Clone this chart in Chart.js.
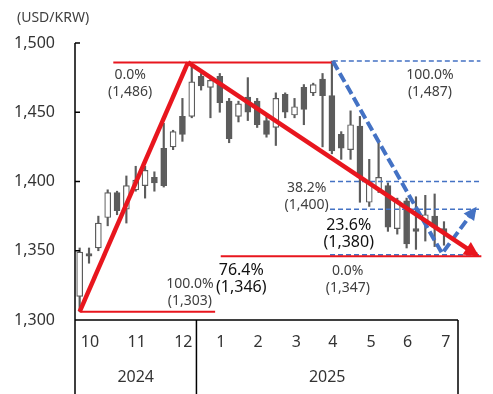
<!DOCTYPE html>
<html>
<head>
<meta charset="utf-8">
<script src="https://cdn.jsdelivr.net/npm/chart.js@4.4.1/dist/chart.umd.min.js"></script>
<style>
  body { margin: 0; background: #fff; }
  canvas { display: block; }
</style>
</head>
<body>
<canvas id="fx" width="493" height="394"></canvas>
<script>
// weekly USD/KRW candles, Oct 2024 - Jul 2025
const open  = [1317,1348,1352,1374,1392,1380,1394,1397,1403,1424,1425,1447,1447,1476,1468,1476,1458,1447,1461,1458,1444,1439,1463,1448,1468,1464,1474,1462,1434,1423,1440,1385,1394,1397,1366,1386,1366,1372,1375,1366]
const high  = [1352,1352,1375,1394,1393,1404,1411,1411,1407,1442,1437,1460,1486,1478,1476,1478,1460,1458,1475,1460,1447,1464,1464,1460,1470,1471,1478,1487,1436,1451,1447,1416,1429,1399,1388,1388,1389,1390,1391,1371]
const low   = [1306,1341,1350,1368,1376,1370,1393,1388,1393,1396,1423,1429,1446,1466,1446,1450,1428,1443,1444,1439,1432,1426,1446,1446,1441,1462,1425,1420,1416,1416,1385,1382,1392,1364,1362,1352,1351,1357,1353,1354]
const close = [1349,1346,1370,1392,1379,1397,1401,1408,1399,1397,1436,1434,1472,1469,1473,1457,1431,1456,1450,1441,1434,1460,1450,1454,1452,1470,1462,1422,1424,1441,1403,1400,1403,1367,1386,1355,1364,1376,1367,1363]

const monthLabels = ['10','11','12','1','2','3','4','5','6','7']
const monthAt = [2.1, 7.1, 12.1, 16.1, 20.1, 24.2, 28.1, 32.2, 36.1, 40.2]   // week index under each label
const yearLabels = ['2024','2025']
const yearBreak = 13.5
const yTicks = [1300, 1350, 1400, 1450, 1500]

// hand drawn retracement marks (x = week index, y = KRW)
const redRise = [{x: 1.0, y: 1306}, {x: 12.6, y: 1486}]
const redFall = [{x: 12.6, y: 1486}, {x: 43.5, y: 1347}]
const blueSwing = [{x: 28.1, y: 1487}, {x: 39.8, y: 1348}, {x: 43.3, y: 1380}]
const redLevels = [[1486, 4.6, 28.1], [1306, 1.0, 15.5], [1346, 16.1, 44.0]]
const fibLevels = [[1487, 28.1, 43.9], [1400, 27.8, 43.9], [1380, 27.8, 43.9], [1347, 27.8, 43.9]]

const notes = [
  {lines: ['0.0%', '(1,486)'], x: 6.4, y: 1477},
  {lines: ['100.0%', '(1,487)'], x: 38.5, y: 1477},
  {lines: ['38.2%', '(1,400)'], x: 25.3, y: 1395.6},
  {lines: ['23.6%', '(1,380)'], x: 29.8, y: 1368.2, strong: true},
  {lines: ['0.0%', '(1,347)'], x: 29.7, y: 1335.7},
  {lines: ['76.4%', '(1,346)'], x: 18.3, y: 1335.7, strong: true},
  {lines: ['100.0%', '(1,303)'], x: 12.8, y: 1326.3}
]

const RED = '#E8161E'
const BLUE = '#4472C4'
const CANDLE = '#5c5c5c'
const FONT = '"Noto Sans", "Open Sans", sans-serif'

Chart.defaults.font.family = FONT

function segment(lv) {
  return {
    type: 'line',
    data: [{x: lv[1], y: lv[0]}, {x: lv[2], y: lv[0]}],
    pointRadius: 0,
    clip: false,
    fill: false
  }
}

const datasets = [
  {
    type: 'bar',
    data: open.map((o, i) => ({x: i + 1, y: [low[i], high[i]]})),
    backgroundColor: CANDLE,
    barThickness: 1.5,
    grouped: false,
    order: 6
  },
  {
    type: 'bar',
    data: open.map((o, i) => ({x: i + 1, y: [Math.min(o, close[i]), Math.max(o, close[i])]})),
    backgroundColor: open.map((o, i) => close[i] >= o ? '#ffffff' : CANDLE),
    borderColor: CANDLE,
    borderWidth: 1.2,
    borderSkipped: false,
    barThickness: 6,
    grouped: false,
    order: 5
  }
]

fibLevels.forEach(lv => datasets.push(Object.assign(segment(lv), {
  borderColor: BLUE, borderWidth: 1.6, borderDash: [5, 3], order: 4
})))
redLevels.forEach(lv => datasets.push(Object.assign(segment(lv), {
  borderColor: RED, borderWidth: 2, order: 3
})))

datasets.push({
  type: 'line', data: blueSwing, borderColor: BLUE, borderWidth: 4, borderDash: [10, 4],
  pointRadius: 0, clip: false, fill: false, order: 2, arrowSize: 13
})
datasets.push({
  type: 'line', data: redRise, borderColor: RED, borderWidth: 4.5,
  pointRadius: 0, clip: false, fill: false, order: 1
})
datasets.push({
  type: 'line', data: redFall, borderColor: RED, borderWidth: 4.5,
  pointRadius: 0, clip: false, fill: false, order: 1, arrowSize: 15
})

const arrowHeads = {
  id: 'arrowHeads',
  afterDatasetsDraw(chart) {
    const ctx = chart.ctx
    chart.data.datasets.forEach((ds, i) => {
      if (!ds.arrowSize) return
      const pts = chart.getDatasetMeta(i).data
      const a = pts[pts.length - 2], b = pts[pts.length - 1]
      const ang = Math.atan2(b.y - a.y, b.x - a.x)
      const len = ds.arrowSize
      ctx.save()
      ctx.translate(b.x, b.y)
      ctx.rotate(ang)
      ctx.translate(3, 0)
      ctx.beginPath()
      ctx.moveTo(0, 0)
      ctx.lineTo(-len, -len * 0.5)
      ctx.lineTo(-len, len * 0.5)
      ctx.closePath()
      ctx.fillStyle = ds.borderColor
      ctx.fill()
      ctx.restore()
    })
  }
}

const frame = {
  id: 'frame',
  afterDraw(chart) {
    const {ctx, chartArea: a, scales: {x, y}} = chart
    const H = chart.height
    ctx.save()
    ctx.strokeStyle = '#000'
    ctx.lineWidth = 1.5
    ctx.beginPath()
    ctx.moveTo(a.left, a.top)
    ctx.lineTo(a.left, H)
    ctx.moveTo(a.left, a.bottom)
    ctx.lineTo(a.right, a.bottom)
    const xb = x.getPixelForValue(yearBreak)
    ctx.moveTo(xb, a.bottom)
    ctx.lineTo(xb, H)
    ctx.moveTo(a.right, a.bottom)
    ctx.lineTo(a.right, H)
    yTicks.forEach(v => {
      const py = y.getPixelForValue(v)
      ctx.moveTo(a.left, py)
      ctx.lineTo(a.left + 5, py)
    })
    ctx.stroke()

    ctx.fillStyle = '#333'
    ctx.textAlign = 'center'
    ctx.textBaseline = 'middle'
    ctx.font = '16px ' + FONT
    monthLabels.forEach((m, i) => ctx.fillText(m, x.getPixelForValue(monthAt[i]), a.bottom + 22))
    ctx.fillText(yearLabels[0], (a.left + xb) / 2, a.bottom + 57)
    ctx.fillText(yearLabels[1], (xb + a.right) / 2, a.bottom + 57)

    notes.forEach(n => {
      ctx.font = (n.strong ? '16px ' : '14px ') + FONT
      ctx.fillStyle = n.strong ? '#111' : '#404040'
      const px = x.getPixelForValue(n.x), py = y.getPixelForValue(n.y)
      n.lines.forEach((t, k) => ctx.fillText(t, px, py + k * 17))
    })

    ctx.font = '14px ' + FONT
    ctx.fillStyle = '#404040'
    ctx.textAlign = 'left'
    ctx.fillText('(USD/KRW)', 17, 18)
    ctx.restore()
  }
}

new Chart(document.getElementById('fx'), {
  type: 'bar',
  data: {datasets: datasets},
  options: {
    responsive: false,
    animation: false,
    events: [],
    layout: {padding: {top: 43, right: 35, bottom: 74, left: 0}},
    plugins: {legend: {display: false}, tooltip: {enabled: false}},
    scales: {
      x: {
        type: 'linear',
        min: 0.5,
        max: 41.5,
        offset: false,
        display: false
      },
      y: {
        min: 1300,
        max: 1500,
        afterFit: (scale) => { scale.width = 75 },
        grid: {display: false, drawTicks: false},
        border: {display: false},
        ticks: {
          stepSize: 50,
          padding: 20,
          color: '#333',
          font: {size: 16},
          callback: (v) => v.toLocaleString('en-US')
        }
      }
    }
  },
  plugins: [arrowHeads, frame]
})
</script>
</body>
</html>
